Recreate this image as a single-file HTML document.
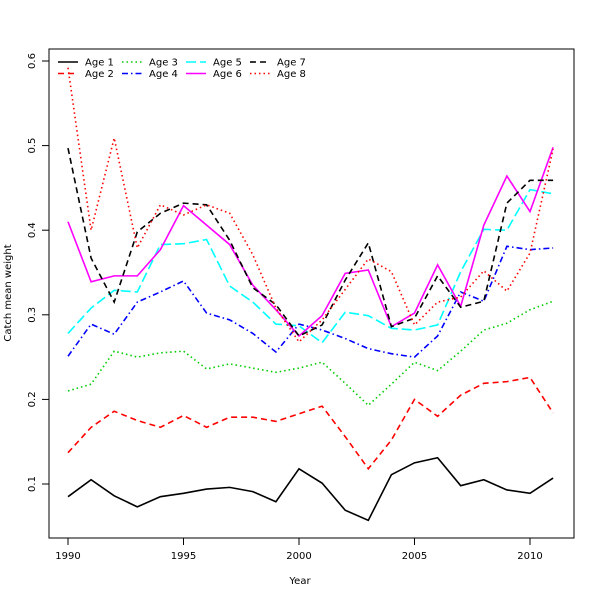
<!DOCTYPE html>
<html><head><meta charset="utf-8"><style>
body{margin:0;background:#fff}
svg text{font-family:"DejaVu Sans","Liberation Sans",sans-serif;font-size:10px;fill:#000}
</style></head><body>
<svg id="c" width="600" height="600" xmlns="http://www.w3.org/2000/svg">
<rect x="49" y="49" width="525" height="489" fill="none" stroke="#000" stroke-width="1"/>
<g id="g"></g>
<text x="300" y="584" text-anchor="middle">Year</text>
<text transform="translate(11,293) rotate(-90)" text-anchor="middle">Catch mean weight</text>
</svg>
<script>
const years=[1990,1991,1992,1993,1994,1995,1996,1997,1998,1999,2000,2001,2002,2003,2004,2005,2006,2007,2008,2009,2010,2011];
const age1=[0.085,0.105,0.086,0.073,0.085,0.089,0.094,0.096,0.091,0.079,0.118,0.101,0.069,0.057,0.111,0.125,0.131,0.098,0.105,0.093,0.089,0.107];
const age2=[0.137,0.167,0.186,0.175,0.167,0.181,0.167,0.179,0.179,0.174,0.183,0.192,0.156,0.118,0.152,0.200,0.180,0.205,0.219,0.221,0.226,0.184];
const age3=[0.210,0.218,0.257,0.250,0.255,0.257,0.236,0.242,0.237,0.232,0.237,0.244,0.219,0.193,0.218,0.244,0.234,0.257,0.282,0.290,0.306,0.316];
const age4=[0.251,0.289,0.277,0.315,0.327,0.340,0.302,0.294,0.278,0.256,0.289,0.282,0.272,0.260,0.254,0.250,0.275,0.327,0.316,0.381,0.377,0.379];
const age5=[0.278,0.308,0.329,0.327,0.383,0.384,0.389,0.334,0.315,0.289,0.287,0.267,0.303,0.299,0.284,0.282,0.288,0.351,0.401,0.400,0.448,0.443];
const age6=[0.410,0.339,0.346,0.346,0.377,0.429,0.406,0.383,0.335,0.306,0.275,0.299,0.349,0.353,0.286,0.302,0.359,0.310,0.406,0.464,0.422,0.498];
const age7=[0.497,0.367,0.315,0.398,0.420,0.432,0.430,0.388,0.332,0.312,0.275,0.288,0.341,0.385,0.286,0.296,0.346,0.309,0.316,0.432,0.459,0.459];
const age8=[0.592,0.400,0.509,0.379,0.430,0.418,0.430,0.420,0.371,0.308,0.268,0.294,0.330,0.366,0.351,0.288,0.315,0.321,0.352,0.328,0.373,0.496];
const xTicks=[1990,1995,2000,2005,2010];
const yTicks=[0.1,0.2,0.3,0.4,0.5,0.6];
const seriesNames=["Age 1","Age 2","Age 3","Age 4","Age 5","Age 6","Age 7","Age 8"];
const seriesData=[age1,age2,age3,age4,age5,age6,age7,age8];
const colors=["#000","#f00","#0c0","#00f","#0ff","#f0f","#000","#f00"];
const dashes=["","6,4","1.5,3","6,3,1.5,3","10,4","","6,4","1.5,3"];
const X=y=>68+(y-1990)*(530-68)/20;
const Y=v=>484-(v-0.1)*846;
const g=document.getElementById('g');
const NS="http://www.w3.org/2000/svg";
function mk(t,a){const e=document.createElementNS(NS,t);for(const k in a)e.setAttribute(k,a[k]);g.appendChild(e);return e;}
xTicks.forEach(t=>{
 const l=mk('line',{x1:X(t),x2:X(t),y1:538,y2:545,stroke:'#000'});
 
 
 const tx=mk('text',{x:X(t),y:559,'text-anchor':'middle'});tx.textContent=t;
 
 
});
yTicks.forEach(t=>{
 const l=mk('line',{x1:42,x2:49,y1:Y(t),y2:Y(t),stroke:'#000'});
 
 
 const tx=mk('text',{transform:`translate(35,${Y(t)}) rotate(-90)`,'text-anchor':'middle'});tx.textContent=t.toFixed(1);
 
 
});
seriesData.forEach((d,i)=>{
 const p=mk('polyline',{points:d.map((v,j)=>X(years[j])+','+Y(v)).join(' '),fill:'none',stroke:colors[i],'stroke-width':1.6,'stroke-dasharray':dashes[i]});
 
 
 const col=Math.floor(i/2),row=i%2;
 const lx=58+col*64,ly=62+row*11.5;
 const ll=mk('line',{x1:lx,x2:lx+20,y1:ly,y2:ly,stroke:colors[i],'stroke-width':1.6,'stroke-dasharray':dashes[i]});
 
 
 const lt=mk('text',{x:lx+27,y:ly+3.5});lt.textContent=seriesNames[i];
 
 
});
</script>
</body></html>
